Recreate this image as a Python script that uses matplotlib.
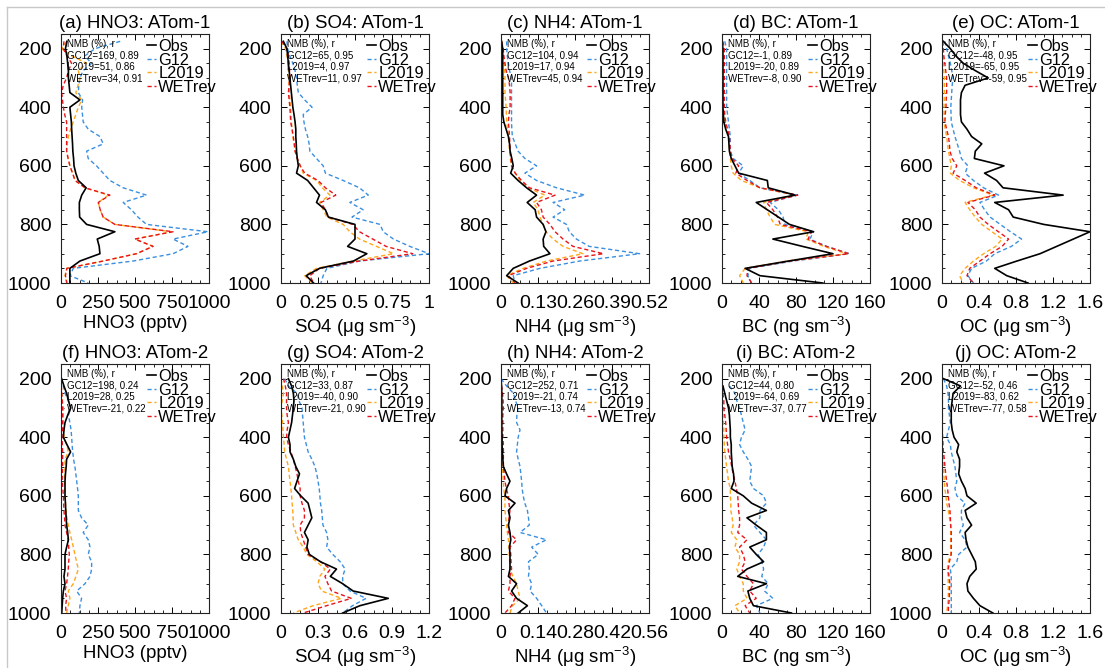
import numpy as np
import matplotlib
matplotlib.use('Agg')
import matplotlib.pyplot as plt
from matplotlib.ticker import MultipleLocator, AutoMinorLocator
from matplotlib.lines import Line2D

plt.rcParams['font.family'] = ['Liberation Sans', 'DejaVu Sans']
plt.rcParams['mathtext.default'] = 'regular'

nan = np.nan

# pressure levels (hPa)
lev1 = [175, 200, 225, 250, 275, 300, 325, 350, 375, 400, 425, 450, 475, 500, 525, 550, 575,
        600, 625, 650, 675, 700, 725, 750, 775, 800, 825, 850, 875, 900, 925, 950, 975, 1000]
lev2 = [200, 225, 250, 275, 300, 325, 350, 375, 400, 425, 450, 475, 500, 525, 550, 575,
        600, 625, 650, 675, 700, 725, 750, 775, 800, 825, 850, 875, 900, 925, 950, 975, 1000]

# ---------------- ATom-1 ----------------
hno3_1_obs = [40, 30, 40, 45, 50, 50, 55, 60, 128, 60, 65, 70, 72, 75, 78, 80, 85,
              88, 100, 117, 170, 140, 124, 124, 126, 173, 364, 245, 258, 263, 128, 60, 60, 60]
hno3_1_g12 = [400, 230, 160, 207, 150, 128, 120, 117, 146, 140, 145, 150, 184, 263, 285, 173, 184,
              240, 285, 330, 420, 578, 420, 476, 520, 578, 993, 757, 858, 757, 488, 83, 60, 184]
hno3_1_l19 = [38, 5, 72, 173, 117, 128, 115, 100, 140, 117, 100, 83, 65, 50, 42, 38, 48,
              60, 78, 95, 162, 320, 252, 265, 285, 364, 746, 499, 622, 510, 285, 38, 27, 38]
hno3_1_wet = [20, 15, 40, 72, 50, 38, 15, 5, 10, 16, 25, 38, 38, 38, 38, 38, 48,
              60, 78, 95, 162, 330, 252, 265, 285, 364, 757, 499, 622, 510, 285, 40, 30, 40]

so4_1_obs = [0.016, 0.04, 0.045, 0.05, 0.055, 0.06, 0.065, 0.07, 0.075, 0.08, 0.088, 0.095, 0.1, 0.1, 0.103, 0.105, 0.11,
             0.117, 0.105, 0.18, 0.22, 0.26, 0.24, 0.30, 0.32, 0.5, 0.5, 0.5, 0.45, 0.58, 0.49, 0.26, 0.17, 0.22]
so4_1_g12 = [0.04, 0.045, 0.06, 0.08, 0.095, 0.105, 0.11, 0.117, 0.16, 0.21, 0.15, 0.155, 0.165, 0.18, 0.19, 0.195, 0.24,
             0.285, 0.3, 0.42, 0.53, 0.59, 0.465, 0.555, 0.48, 0.67, 0.69, 0.76, 0.87, 1.0, 0.53, 0.31, 0.285, 0.27]
so4_1_l19 = [0.0, 0.03, 0.04, 0.05, 0.05, 0.05, 0.055, 0.057, 0.06, 0.065, 0.068, 0.07, 0.075, 0.08, 0.088, 0.095, 0.11,
             0.13, 0.15, 0.24, 0.28, 0.33, 0.26, 0.285, 0.31, 0.42, 0.465, 0.53, 0.645, 0.76, 0.49, 0.24, 0.16, 0.21]
so4_1_wet = [0.005, 0.04, 0.05, 0.055, 0.058, 0.06, 0.055, 0.05, 0.055, 0.06, 0.063, 0.065, 0.075, 0.083, 0.09, 0.095, 0.11,
             0.13, 0.16, 0.25, 0.30, 0.37, 0.27, 0.30, 0.32, 0.485, 0.53, 0.62, 0.71, 0.89, 0.53, 0.26, 0.195, 0.22]

nh4_1_obs = [0.002, 0.006, 0.006, 0.006, 0.006, 0.006, 0.006, 0.006, 0.006, 0.006, 0.006, 0.01, 0.018, 0.026, 0.03, 0.032, 0.038,
             0.043, 0.034, 0.06, 0.09, 0.125, 0.092, 0.12, 0.125, 0.148, 0.158, 0.148, 0.15, 0.172, 0.10, 0.043, 0.02, 0.06]
nh4_1_g12 = [0.02, 0.02, 0.022, 0.026, 0.03, 0.037, 0.037, 0.037, 0.037, 0.037, 0.037, 0.037, 0.038, 0.04, 0.05, 0.06, 0.084,
             0.125, 0.084, 0.125, 0.195, 0.294, 0.183, 0.224, 0.183, 0.23, 0.24, 0.265, 0.31, 0.487, 0.277, 0.137, 0.043, 0.049]
nh4_1_l19 = [0.002, 0.006, 0.008, 0.011, 0.013, 0.014, 0.014, 0.014, 0.016, 0.018, 0.019, 0.02, 0.023, 0.026, 0.028, 0.03, 0.033,
             0.037, 0.05, 0.067, 0.095, 0.154, 0.113, 0.13, 0.137, 0.148, 0.158, 0.183, 0.218, 0.288, 0.16, 0.078, 0.02, 0.043]
nh4_1_wet = [0.002, 0.008, 0.01, 0.014, 0.018, 0.026, 0.03, 0.032, 0.032, 0.032, 0.028, 0.026, 0.028, 0.03, 0.031, 0.032, 0.035,
             0.037, 0.05, 0.072, 0.1, 0.19, 0.125, 0.142, 0.148, 0.172, 0.19, 0.218, 0.253, 0.36, 0.183, 0.09, 0.026, 0.049]

bc_1_obs = [0, 1, 1, 1, 1, 1, 1, 1, 1, 1, 1.5, 2, 4, 7, 7.5, 8, 10,
            14, 18, 49, 50, 79, 37, 49, 61, 73, 99, 55, 87, 120, 72, 25, 41, 109]
bc_1_g12 = [3, 5, 5, 5, 5, 5, 5, 5, 5, 5, 6, 7, 8, 9, 9, 9, 12,
            23, 18, 30, 41, 81, 52, 61, 66, 68, 99, 95, 113, 138, 77, 30, 28, 32]
bc_1_l19 = [0, 1.5, 1.5, 1.5, 1.5, 1.5, 1.5, 1.5, 1.5, 1.5, 2, 3, 5, 7, 8, 8, 9,
            10, 12, 21, 41, 79, 45, 48, 52, 57, 93, 91, 110, 135, 70, 25, 19, 23]
bc_1_wet = [1, 2.5, 2.5, 2.5, 2.5, 2.5, 2.5, 2.5, 2.5, 2.5, 3, 4, 6, 8, 8.5, 9, 11,
            18, 15, 27, 41, 82, 48, 55, 60, 63, 97, 93, 113, 137, 74, 28, 27, 32]

oc_1_obs = [0.015, 0.09, 0.15, 0.23, 0.36, 0.5, 0.25, 0.21, 0.2, 0.2, 0.2, 0.21, 0.27, 0.32, 0.43, 0.36, 0.35,
            0.67, 0.46, 0.59, 0.66, 1.31, 0.57, 0.72, 0.77, 1.1, 1.6, 1.42, 1.24, 1.06, 0.81, 0.57, 0.7, 0.93]
oc_1_g12 = [0.03, 0.05, 0.07, 0.09, 0.105, 0.12, 0.11, 0.105, 0.1, 0.095, 0.098, 0.1, 0.12, 0.14, 0.165, 0.19, 0.21,
            0.28, 0.25, 0.34, 0.45, 0.61, 0.41, 0.46, 0.52, 0.63, 0.74, 0.86, 0.75, 0.57, 0.48, 0.32, 0.28, 0.34]
oc_1_l19 = [0.004, 0.008, 0.01, 0.015, 0.02, 0.025, 0.025, 0.025, 0.024, 0.022, 0.022, 0.022, 0.035, 0.05, 0.06, 0.07, 0.085,
            0.1, 0.09, 0.19, 0.34, 0.55, 0.25, 0.3, 0.36, 0.43, 0.54, 0.65, 0.58, 0.45, 0.34, 0.25, 0.19, 0.23]
oc_1_wet = [0.008, 0.015, 0.02, 0.03, 0.04, 0.05, 0.05, 0.05, 0.045, 0.043, 0.035, 0.032, 0.05, 0.07, 0.08, 0.086, 0.11,
            0.16, 0.12, 0.25, 0.37, 0.57, 0.28, 0.36, 0.41, 0.5, 0.61, 0.72, 0.65, 0.52, 0.41, 0.3, 0.27, 0.34]

# ---------------- ATom-2 ----------------
hno3_2_obs = [4, 20, 38, 50, 65, 45, 27, 20, 16, 40, 65, 38, 35, 30, 27, 27,
              27, 30, 32, 35, 38, 45, 50, 38, 27, 27, 27, 20, 27, 16, 11, 8, 5]
hno3_2_g12 = [4, 15, 27, 50, 67, 50, 60, 68, 72, 75, 79, 85, 94, 100, 106, 112,
              117, 117, 117, 139, 184, 150, 184, 196, 184, 207, 207, 196, 162, 106, 139, 128, 124]
hno3_2_l19 = [0, 2, 5, 10, 16, 16, 16, 18, 20, 38, 49, 27, 27, 25, 22, 25,
              27, 30, 34, 40, 49, 60, 72, 83, 94, 105, 117, 101, 83, 49, 60, 49, 38]
hno3_2_wet = [0, 2, 5, 8, 11, 11, 11, 9, 7, 9, 11, 11, 11, 9, 7, 12,
              16, 18, 20, 24, 27, 38, 49, 52, 56, 52, 49, 44, 38, 27, 38, 31, 34]

so4_2_obs = [0.06, 0.086, 0.1, 0.105, 0.1, 0.093, 0.086, 0.073, 0.06, 0.073, 0.073, 0.1, 0.12, 0.15, 0.13, 0.11,
             0.16, 0.22, 0.235, 0.25, 0.22, 0.19, 0.22, 0.21, 0.23, 0.32, 0.45, 0.40, 0.5, 0.585, 0.87, 0.64, 0.5]
so4_2_g12 = [0.03, 0.06, 0.13, 0.145, 0.17, 0.175, 0.18, 0.185, 0.19, 0.205, 0.22, 0.25, 0.275, 0.29, 0.3, 0.31,
             0.315, 0.32, 0.33, 0.335, 0.34, 0.37, 0.38, 0.37, 0.42, 0.48, 0.52, 0.5, 0.5, 0.56, 0.69, 0.58, 0.5]
so4_2_l19 = [0.0, 0.01, 0.02, 0.01, 0.0, 0.007, 0.013, 0.016, 0.02, 0.025, 0.03, 0.045, 0.06, 0.066, 0.073, 0.08,
             0.086, 0.09, 0.095, 0.098, 0.1, 0.12, 0.14, 0.18, 0.21, 0.29, 0.356, 0.315, 0.3, 0.33, 0.49, 0.26, 0.1]
so4_2_wet = [0.02, 0.035, 0.045, 0.045, 0.045, 0.05, 0.06, 0.05, 0.045, 0.06, 0.08, 0.1, 0.115, 0.13, 0.14, 0.155,
             0.155, 0.17, 0.19, 0.19, 0.155, 0.16, 0.18, 0.2, 0.22, 0.32, 0.4, 0.356, 0.38, 0.41, 0.57, 0.37, 0.18]

nh4_2_obs = [0.0, 0.002, 0.003, 0.003, 0.003, 0.003, 0.003, 0.003, 0.004, 0.004, 0.005, 0.007, 0.009, 0.021, 0.034, 0.021,
             0.015, 0.053, 0.028, 0.034, 0.028, 0.034, 0.037, 0.032, 0.034, 0.034, 0.034, 0.028, 0.059, 0.040, 0.059, 0.1, 0.065]
nh4_2_g12 = [0.0, 0.021, 0.047, 0.055, 0.065, 0.06, 0.059, 0.072, 0.065, 0.062, 0.059, 0.065, 0.072, 0.075, 0.078, 0.08,
             0.084, 0.09, 0.1, 0.104, 0.107, 0.072, 0.172, 0.116, 0.141, 0.104, 0.107, 0.104, 0.116, 0.11, 0.135, 0.154, 0.172]
nh4_2_l19 = [0.0, 0.001, 0.003, 0.003, 0.003, 0.003, 0.003, 0.003, 0.003, 0.003, 0.004, 0.005, 0.006, 0.007, 0.009, 0.01,
             0.015, 0.015, 0.015, 0.018, 0.021, 0.024, 0.028, 0.03, 0.031, 0.033, 0.034, 0.045, 0.059, 0.065, 0.072, 0.044, 0.034]
nh4_2_wet = [0.0, 0.002, 0.006, 0.008, 0.009, 0.007, 0.007, 0.007, 0.007, 0.009, 0.009, 0.009, 0.009, 0.012, 0.015, 0.02,
             0.028, 0.03, 0.034, 0.03, 0.028, 0.028, 0.059, 0.034, 0.037, 0.038, 0.04, 0.034, 0.034, 0.028, 0.053, 0.04, 0.015]

bc_2_obs = [nan, 1, 3, 5, 7, 8, 8.5, 9, 9, 10, 10, 10.5, 11, 12.5, 13, 10,
            23, 32, 48, 27, 37, 48, 48, 30, 37, 45, 27, 17, 48, 28, 30, 34, 75]
bc_2_g12 = [nan, 8, 14, 16, 19, 21, 23, 25, 21, 19, 23, 28, 32, 31, 30, 34,
            45, 48, 41, 41, 34, 41, 48, 45, 39, 43, 45, 43, 50, 46, 55, 37, 41]
bc_2_l19 = [nan, 1, 0.5, 0.5, 1, 1.2, 1.5, 2, 2, 2.5, 3, 4, 5, 6, 7, 9,
            9, 9.5, 9.5, 11, 12, 10, 16, 14, 19, 19, 16, 19, 23, 23, 27, 14, 19]
bc_2_wet = [nan, nan, 1, 2, 2, 3, 4, 4.5, 5, 6, 7, 9, 10.5, 12, 14, 15.5,
            17, 17.5, 18, 19, 19, 17, 27, 19, 23, 25, 21, 27, 34, 30, 37, 25, 30]

oc_2_obs = [0.015, 0.2, 0.12, 0.11, 0.1, 0.1, 0.1, 0.11, 0.13, 0.18, 0.16, 0.19, 0.19, 0.18, 0.21, 0.25,
            0.27, 0.37, 0.25, 0.27, 0.32, 0.25, 0.26, 0.28, 0.32, 0.36, 0.37, 0.3, 0.27, 0.28, 0.34, 0.41, 0.55]
oc_2_g12 = [0.015, 0.05, 0.065, 0.07, 0.07, 0.08, 0.09, 0.07, 0.05, 0.09, 0.1, 0.12, 0.14, 0.15, 0.16, 0.14,
            0.16, 0.25, 0.21, 0.21, 0.23, 0.19, 0.25, 0.27, 0.18, 0.16, 0.09, 0.1, 0.1, 0.1, 0.1, 0.1, 0.1]
oc_2_l19 = [0.0, 0.005, 0.005, 0.005, 0.005, 0.005, 0.005, 0.005, 0.005, 0.008, 0.015, 0.015, 0.015, 0.02, 0.025, 0.03,
            0.043, 0.05, 0.068, 0.08, 0.094, 0.094, 0.094, 0.094, 0.094, 0.068, 0.058, 0.065, 0.068, 0.068, 0.068, 0.06, 0.05]
oc_2_wet = [0.0, 0.0, 0.0, 0.0, 0.0, 0.0, 0.0, 0.0, 0.007, 0.01, 0.015, 0.025, 0.032, 0.04, 0.05, 0.06,
            0.068, 0.075, 0.086, 0.09, 0.094, 0.1, 0.1, 0.1, 0.1, 0.08, 0.068, 0.075, 0.086, 0.08, 0.08, 0.07, 0.068]

# panel titles, axis labels and stats
titles = ['(a) HNO3: ATom-1', '(b) SO4: ATom-1', '(c) NH4: ATom-1', '(d) BC: ATom-1', '(e) OC: ATom-1',
          '(f) HNO3: ATom-2', '(g) SO4: ATom-2', '(h) NH4: ATom-2', '(i) BC: ATom-2', '(j) OC: ATom-2']
xlabels = ['HNO3 (pptv)', 'SO4 (μg sm$^{-3}$)', 'NH4 (μg sm$^{-3}$)', 'BC (ng sm$^{-3}$)', 'OC (μg sm$^{-3}$)']
xticks_1 = [[0, 250, 500, 750, 1000], [0, 0.25, 0.5, 0.75, 1], [0, 0.13, 0.26, 0.39, 0.52],
            [0, 40, 80, 120, 160], [0, 0.4, 0.8, 1.2, 1.6]]
xticks_2 = [[0, 250, 500, 750, 1000], [0, 0.3, 0.6, 0.9, 1.2], [0, 0.14, 0.28, 0.42, 0.56],
            [0, 40, 80, 120, 160], [0, 0.4, 0.8, 1.2, 1.6]]
xticklabels_1 = [['0', '250', '500', '750', '1000'], ['0', '0.25', '0.5', '0.75', '1'],
                 ['0', '0.13', '0.26', '0.39', '0.52'], ['0', '40', '80', '120', '160'],
                 ['0', '0.4', '0.8', '1.2', '1.6']]
xticklabels_2 = [['0', '250', '500', '750', '1000'], ['0', '0.3', '0.6', '0.9', '1.2'],
                 ['0', '0.14', '0.28', '0.42', '0.56'], ['0', '40', '80', '120', '160'],
                 ['0', '0.4', '0.8', '1.2', '1.6']]
stats = [
    ['GC12=169, 0.89', 'L2019=51, 0.86', 'WETrev=34, 0.91'],
    ['GC12=65, 0.95', 'L2019=4, 0.97', 'WETrev=11, 0.97'],
    ['GC12=104, 0.94', 'L2019=17, 0.94', 'WETrev=45, 0.94'],
    ['GC12=-1, 0.89', 'L2019=-20, 0.89', 'WETrev=-8, 0.90'],
    ['GC12=-48, 0.95', 'L2019=-65, 0.95', 'WETrev=-59, 0.95'],
    ['GC12=198, 0.24', 'L2019=28, 0.25', 'WETrev=-21, 0.22'],
    ['GC12=33, 0.87', 'L2019=-40, 0.90', 'WETrev=-21, 0.90'],
    ['GC12=252, 0.71', 'L2019=-21, 0.74', 'WETrev=-13, 0.74'],
    ['GC12=44, 0.80', 'L2019=-64, 0.69', 'WETrev=-37, 0.77'],
    ['GC12=-52, 0.46', 'L2019=-83, 0.62', 'WETrev=-77, 0.58'],
]

row1 = [(hno3_1_obs, hno3_1_g12, hno3_1_l19, hno3_1_wet), (so4_1_obs, so4_1_g12, so4_1_l19, so4_1_wet),
        (nh4_1_obs, nh4_1_g12, nh4_1_l19, nh4_1_wet), (bc_1_obs, bc_1_g12, bc_1_l19, bc_1_wet),
        (oc_1_obs, oc_1_g12, oc_1_l19, oc_1_wet)]
row2 = [(hno3_2_obs, hno3_2_g12, hno3_2_l19, hno3_2_wet), (so4_2_obs, so4_2_g12, so4_2_l19, so4_2_wet),
        (nh4_2_obs, nh4_2_g12, nh4_2_l19, nh4_2_wet), (bc_2_obs, bc_2_g12, bc_2_l19, bc_2_wet),
        (oc_2_obs, oc_2_g12, oc_2_l19, oc_2_wet)]

c_obs, c_g12, c_l19, c_wet = 'black', '#3b8fe0', '#ffa61a', '#e8141c'

W, H = 1105, 668
fig = plt.figure(figsize=(W / 100, H / 100), dpi=100)

# light frame line at left and top
fig.add_artist(Line2D([7 / W, 7 / W], [0, 1 - 7 / H], color='#c8c8c8', lw=1))
fig.add_artist(Line2D([7 / W, 1], [1 - 7 / H, 1 - 7 / H], color='#c8c8c8', lw=1))

lefts = [61, 281, 501, 722, 942]
tops = [34, 364]
aw, ah = 148, 249


def draw_panel(ax, lev, series, ticks, ticklabels, title, xlabel, st):
    obs, g12, l19, wet = series
    ax.plot(g12, lev, color=c_g12, lw=1.0, dashes=(3, 2), label='G12')
    ax.plot(l19, lev, color=c_l19, lw=1.0, dashes=(3, 2), label='L2019')
    ax.plot(wet, lev, color=c_wet, lw=1.0, dashes=(3, 2), label='WETrev')
    ax.plot(obs, lev, color=c_obs, lw=1.2, label='Obs')
    ax.set_ylim(1000, 150)
    ax.set_xlim(ticks[0], ticks[-1])
    ax.set_yticks([200, 400, 600, 800, 1000])
    ax.yaxis.set_minor_locator(MultipleLocator(50))
    ax.set_xticks(ticks)
    ax.set_xticklabels(ticklabels)
    ax.xaxis.set_minor_locator(AutoMinorLocator(4))
    ax.tick_params(which='both', direction='in', top=True, right=True, labelsize=14)
    ax.tick_params(which='major', length=4, width=0.7)
    ax.tick_params(which='minor', length=2, width=0.6)
    ax.tick_params(axis='y', pad=7)
    ax.tick_params(axis='x', pad=9)
    for s in ax.spines.values():
        s.set_linewidth(0.8)
        s.set_color('#222222')
    ax.set_title(title, fontsize=13.4, pad=4)
    ax.set_xlabel(xlabel, fontsize=13.4, labelpad=2)
    ax.text(0.04, 0.96, 'NMB (%), r', transform=ax.transAxes, fontsize=7.0, va='center')
    for k, s in enumerate(st):
        ax.text(0.04, 0.913 - 0.045 * k, s, transform=ax.transAxes, fontsize=7.0, va='center')
    h, lab = ax.get_legend_handles_labels()
    order = [3, 0, 1, 2]
    ax.legend([h[i] for i in order], [lab[i] for i in order], loc='upper left',
              bbox_to_anchor=(0.58, 0.98), frameon=False, fontsize=11.8,
              handlelength=0.55, handletextpad=0.15, labelspacing=-0.09,
              borderaxespad=0, borderpad=0)


for r in range(2):
    lev = lev1 if r == 0 else lev2
    data = row1 if r == 0 else row2
    ticks = xticks_1 if r == 0 else xticks_2
    tlabs = xticklabels_1 if r == 0 else xticklabels_2
    for c in range(5):
        ax = fig.add_axes([lefts[c] / W, 1 - (tops[r] + ah) / H, aw / W, ah / H])
        i = r * 5 + c
        draw_panel(ax, lev, data[c], ticks[c], tlabs[c], titles[i], xlabels[c], stats[i])

fig.savefig('out.png', dpi=100)
